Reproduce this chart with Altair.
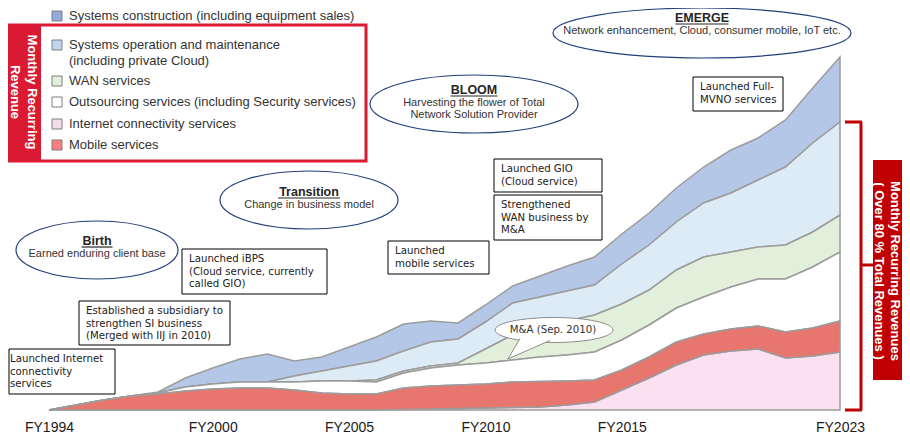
import altair as alt
import pandas as pd

# ---------------- data ----------------
years = list(range(1994, 2024))

series_names = [
    "Systems construction (including equipment sales)",
    "Systems operation and maintenance (including private Cloud)",
    "WAN services",
    "Outsourcing services (including Security services)",
    "Internet connectivity services",
    "Mobile services",
]

construction = [0, 0, 0, 0, 1, 9, 16, 23, 28, 15, 14, 19, 24, 27, 21, 16, 17, 17, 21, 25,
                28, 30, 32, 34, 36, 43, 42, 47, 55, 65]
operation = [0, 0, 0, 0, 0, 0, 0, 0, 0, 6, 10, 15, 19, 20, 24, 24, 27, 32, 31, 30,
             30, 40, 45, 48, 54, 59, 67, 78, 89, 93]
wan = [0, 0, 0, 0, 0, 0, 0, 0, 0, 0, 0, 0, 2, 2, 2, 2, 14, 25, 29, 34,
       37, 36, 35, 38, 40, 35, 32, 34, 35, 37]
outsourcing = [0, 0, 0, 0, 1, 4, 5, 6, 6, 8, 12, 13, 12, 15, 18, 20, 21, 22, 24.5, 26,
               28, 30, 32, 34, 37, 42, 47, 53, 61, 69]
mobile = [0, 5, 10, 14, 16, 19, 21, 22, 22, 20, 17, 16, 16, 21.5, 23, 23.5, 24, 25.5, 25.5, 24,
          22, 20, 21, 23, 21, 22, 23, 26, 28, 31]
internet = [0, 0, 0, 0, 0, 0, 0, 0, 0, 0, 0, 0, 0, 0.5, 1, 1.5, 2, 2.5, 3, 5,
            8, 20, 32, 45, 55, 59, 61, 52, 54, 58]

tick_years = [1994, 2000, 2005, 2010, 2015, 2023]

# stack position (0 = bottom)
values_by_series = [construction, operation, wan, outsourcing, internet, mobile]
stack_idx = [5, 4, 3, 2, 0, 1]

fill_colors = ["#B4C7E7", "#DDEBF7", "#E2EFDA", "#FFFFFF", "#FCE0EF", "#E6766E"]
swatch_colors = ["#8FAADC", "#BDD7EE", "#E2EFDA", "#FFFFFF", "#F2DCEA", "#FF7C80"]

rows = []
for name, vals, si in zip(series_names, values_by_series, stack_idx):
    for y, v in zip(years, vals):
        rows.append({"series": name, "year": y, "value": v, "idx": si})
df = pd.DataFrame(rows)

# ---------------- layout helpers ----------------
OX, OY = 49, 50          # page position of the plot origin
W, H = 791, 360
ONE = alt.Data(values=[{"k": 0}])
LIB = "Liberation Sans"
DV = "DejaVu Sans"


def text(x, y, s, size=10.2, font=DV, weight="normal", align="left", color="#222222", angle=0):
    return alt.Chart(ONE).mark_text(
        text=s, align=align, baseline="middle", font=font, fontSize=size,
        fontWeight=weight, color=color, angle=angle
    ).encode(x=alt.value(x - OX), y=alt.value(y - OY))


def box(x1, y1, x2, y2, fill="white", stroke="black", sw=1.0):
    return alt.Chart(ONE).mark_rect(fill=fill, stroke=stroke, strokeWidth=sw).encode(
        x=alt.value(x1 - OX), x2=alt.value(x2 - OX), y=alt.value(y1 - OY), y2=alt.value(y2 - OY)
    )


def rule(x1, y1, x2, y2, color, sw):
    return alt.Chart(ONE).mark_rule(color=color, strokeWidth=sw).encode(
        x=alt.value(x1 - OX), x2=alt.value(x2 - OX), y=alt.value(y1 - OY), y2=alt.value(y2 - OY)
    )


def ellipse_path(r):
    k = 0.5523
    return (f"M-1,0 C-1,{-k*r:.4f} {-k},{-r:.4f} 0,{-r:.4f} "
            f"C{k},{-r:.4f} 1,{-k*r:.4f} 1,0 "
            f"C1,{k*r:.4f} {k},{r:.4f} 0,{r:.4f} "
            f"C{-k},{r:.4f} -1,{k*r:.4f} -1,0 Z")


def ellipse(cx, cy, rx, ry, stroke="#203F7E", sw=1.2):
    return alt.Chart(ONE).mark_point(
        shape=ellipse_path(ry / rx), size=(2 * rx) ** 2, fill="white", stroke=stroke,
        strokeWidth=sw, opacity=1, fillOpacity=1, strokeOpacity=1
    ).encode(x=alt.value(cx - OX), y=alt.value(cy - OY))


# ---------------- stacked area ----------------
area = alt.Chart(df).mark_area(
    stroke="#9C9C9C", strokeWidth=1.5, opacity=1, interpolate="linear"
).encode(
    x=alt.X("year:Q", scale=alt.Scale(domain=[1994, 2023], nice=False, zero=False),
            axis=alt.Axis(values=tick_years, labelExpr="'FY' + datum.value", title=None,
                          domain=False, ticks=False, tickSize=0, grid=False,
                          labelFont=LIB, labelFontSize=14, labelColor="#1a1a1a",
                          labelPadding=10, labelFlush=False, labelOverlap=False)),
    y=alt.Y("value:Q", stack="zero", scale=alt.Scale(domain=[0, 360], nice=False), axis=None),
    color=alt.Color("series:N", scale=alt.Scale(domain=series_names, range=fill_colors), legend=None),
    order=alt.Order("idx:Q", sort="ascending"),
)

layers = [area]

# ---------------- legend ----------------
RED = "#DA1A32"
layers.append(box(9, 25, 366, 161, fill="white", stroke=RED, sw=3))
layers.append(box(9, 25, 41, 161, fill=RED, stroke=RED, sw=0))
layers.append(text(32, 92, "Monthly Recurring", size=13, font=LIB, weight="bold", align="center",
                   color="white", angle=90))
layers.append(text(15, 92, "Revenue", size=13, font=LIB, weight="bold", align="center",
                   color="white", angle=90))

legend_y = [16, 45, 81, 102, 124, 145]
legend_lines = [
    ["Systems construction (including equipment sales)"],
    ["Systems operation and maintenance", " (including private Cloud)"],
    ["WAN services"],
    ["Outsourcing services (including Security services)"],
    ["Internet connectivity services"],
    ["Mobile services"],
]
for ly, lines, sc in zip(legend_y, legend_lines, swatch_colors):
    layers.append(box(52, ly - 5, 62, ly + 5, fill=sc, stroke="#7F7F7F", sw=1))
    for i, ln in enumerate(lines):
        layers.append(text(69, ly + i * 15.5, ln, size=13, font=LIB, color="#333333"))

# ---------------- phase ellipses ----------------
phases = [
    (97, 250, 81, 29, "Birth", ["Earned enduring client base"], 241),
    (309, 200, 89, 29, "Transition", ["Change in business model"], 192),
    (474, 104, 104, 29, "BLOOM", ["Harvesting the flower of Total", "Network Solution Provider"], 90),
    (702, 33, 149, 25, "EMERGE", ["Network enhancement, Cloud, consumer mobile, IoT etc."], 18),
]
title_w = {"Birth": 31, "Transition": 62, "BLOOM": 47, "EMERGE": 53}
for cx, cy, rx, ry, title, subs, ty in phases:
    layers.append(ellipse(cx, cy, rx, ry))
    layers.append(text(cx, ty, title, size=12.5, font=LIB, weight="bold", align="center",
                       color="#262626"))
    tw = title_w[title]
    layers.append(rule(cx - tw / 2, ty + 6, cx + tw / 2, ty + 6, "#262626", 1.2))
    for i, s in enumerate(subs):
        layers.append(text(cx, ty + 13 + i * 12, s, size=11, font=LIB, align="center",
                           color="#333333"))

# ---------------- event boxes ----------------
events = [
    (3, 349, 115, 394, ["Launched Internet", "connectivity", "services"]),
    (79, 301, 230, 345, ["Established a subsidiary to", "strengthen SI business",
                         "(Merged with IIJ in 2010)"]),
    (182, 249, 327, 294, ["Launched iBPS", "(Cloud service, currently", "called GIO)"]),
    (388, 241, 489, 274, ["Launched", "mobile services"]),
    (494, 159, 602, 192, ["Launched GIO", "(Cloud service)"]),
    (494, 195, 602, 240, ["Strengthened", "WAN business by", "M&A"]),
    (693, 77, 783, 111, ["Launched Full-", "MVNO services"]),
]
for x1, y1, x2, y2, lines in events:
    layers.append(box(max(x1, 9), y1, x2, y2))
    for i, ln in enumerate(lines):
        layers.append(text(x1 + 7, y1 + 10 + i * 12.5, ln))

# ---------------- M&A callout ----------------
crx = 59
layers.append(ellipse(554, 330, crx, 12.5, stroke="#8C8C8C", sw=1))
tail = "M-0.576,0.144 L-0.78,0.49 L-0.068,0.178"
layers.append(alt.Chart(ONE).mark_point(
    shape=tail, size=(2 * crx) ** 2, fill="white", stroke="#8C8C8C", strokeWidth=1,
    opacity=1, fillOpacity=1, strokeOpacity=1
).encode(x=alt.value(554 - OX), y=alt.value(330 - OY)))
layers.append(text(553, 330, "M&A (Sep. 2010)", size=10.2, align="center", color="#333333"))

# ---------------- right bracket ----------------
DRED = "#C00000"
layers.append(rule(861, 122, 861, 410, DRED, 3))
layers.append(rule(845, 122, 862, 122, DRED, 3))
layers.append(rule(845, 410, 862, 410, DRED, 3))
layers.append(rule(861, 265, 874, 265, DRED, 3))
layers.append(box(873, 160, 904, 380, fill=DRED, stroke=DRED, sw=0))
layers.append(text(894.5, 271, "Monthly Recurring Revenues", size=13, font=LIB, weight="bold",
                   align="center", color="white", angle=90))
layers.append(text(879, 271, "( Over  80 % Total Revenues )", size=13, font=LIB, weight="bold",
                   align="center", color="white", angle=90))

chart = alt.layer(*layers).properties(
    width=W, height=H,
    autosize=alt.AutoSizeParams(type="none"),
    padding={"left": OX - 8, "top": OY - 8, "right": 894 - (OX - 8) - W, "bottom": 23},
    background="white",
).configure_view(stroke=None)

chart.save("out.html", embed_options={"renderer": "svg", "actions": False})
